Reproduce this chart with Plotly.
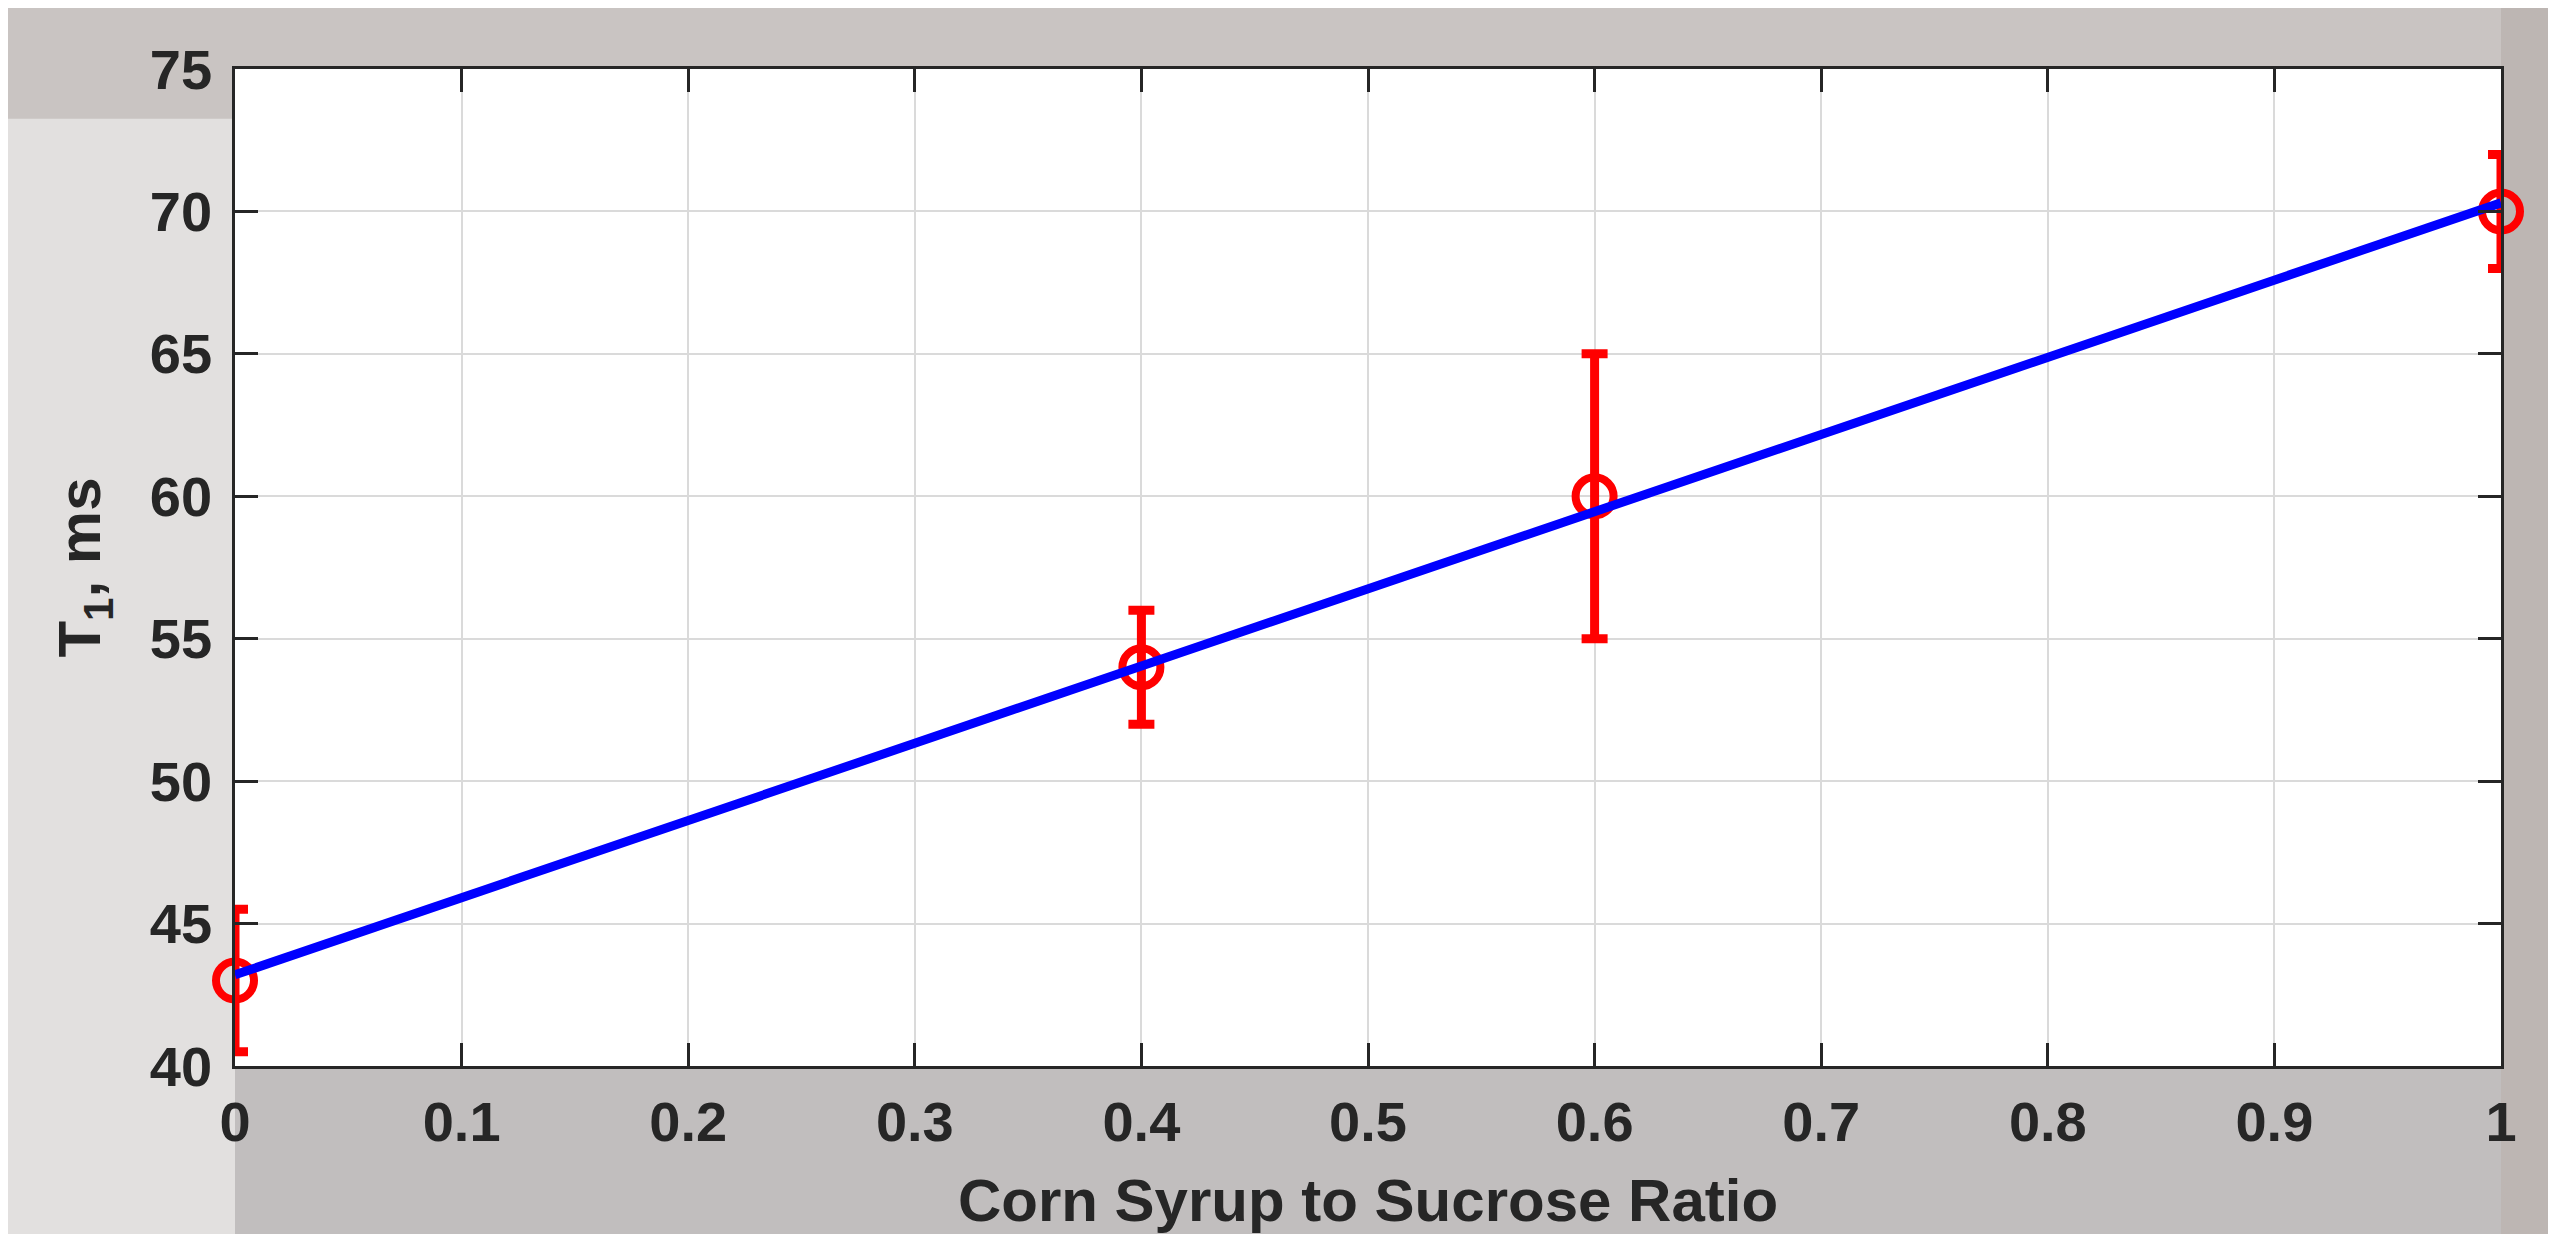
import plotly.graph_objects as go

# Data
ratio = [0, 0.4, 0.6, 1.0]
t1_ms = [43, 54, 60, 70]
t1_err = [2.5, 2.0, 5.0, 2.0]
fit_x = [0, 1.0]
fit_y = [43.2, 70.3]

x_ticks = [0, 0.1, 0.2, 0.3, 0.4, 0.5, 0.6, 0.7, 0.8, 0.9, 1]
x_labels = ["0", "0.1", "0.2", "0.3", "0.4", "0.5", "0.6", "0.7", "0.8", "0.9", "1"]
y_ticks = [40, 45, 50, 55, 60, 65, 70, 75]

FONT = "Liberation Sans, Arial, sans-serif"
DARK = "#262626"

fig = go.Figure()

fig.add_trace(go.Scatter(
    x=ratio, y=t1_ms, mode="markers",
    marker=dict(symbol="circle-open", size=38, color="red", line=dict(width=8, color="red")),
    error_y=dict(type="data", array=t1_err, visible=True, color="red", thickness=9, width=13),
    cliponaxis=False, showlegend=False,
))
fig.add_trace(go.Scatter(
    x=fit_x, y=fit_y, mode="lines",
    line=dict(color="#0000ff", width=9),
    showlegend=False,
))

axis_common = dict(
    showline=True, linecolor=DARK, linewidth=2.5, mirror="ticks",
    ticks="inside", ticklen=23, tickwidth=2.5, tickcolor=DARK,
    showgrid=True, gridcolor="#dadada", gridwidth=1.5,
    zeroline=False,
    tickfont=dict(family=FONT, size=56, color=DARK, weight="bold"),
)

fig.update_xaxes(
    range=[0, 1], tickvals=x_ticks, ticktext=x_labels,
    ticklabelstandoff=5,
    title=dict(text="Corn Syrup to Sucrose Ratio", standoff=49,
               font=dict(family=FONT, size=60, color=DARK, weight="bold")),
    **axis_common,
)
fig.update_yaxes(
    range=[40, 75], tickvals=y_ticks,
    ticklabelstandoff=9,
    title=dict(text="T<sub>1</sub>, ms", standoff=30,
               font=dict(family=FONT, size=60, color=DARK, weight="bold")),
    **axis_common,
)

# soft background panels imitating the photo behind the reference chart
bg_panels = [
    dict(x0=-0.11, x1=0.0, y0=-0.2, y1=0.95, color="#e2e0df"),
    dict(x0=0.0, x1=1.0, y0=-0.2, y1=0.0, color="#c1bebe"),
    dict(x0=1.0, x1=1.05, y0=-0.2, y1=1.1, color="#bdb6b3"),
]
for p in bg_panels:
    fig.add_shape(type="rect", xref="paper", yref="paper",
                  x0=p["x0"], x1=p["x1"], y0=p["y0"], y1=p["y1"],
                  fillcolor=p["color"], line=dict(width=0), layer="below")

fig.update_layout(
    width=2548, height=1226,
    margin=dict(l=227, r=55, t=61, b=168, autoexpand=False),
    paper_bgcolor="#c9c4c2",
    plot_bgcolor="white",
)

fig.write_html("out.html")
